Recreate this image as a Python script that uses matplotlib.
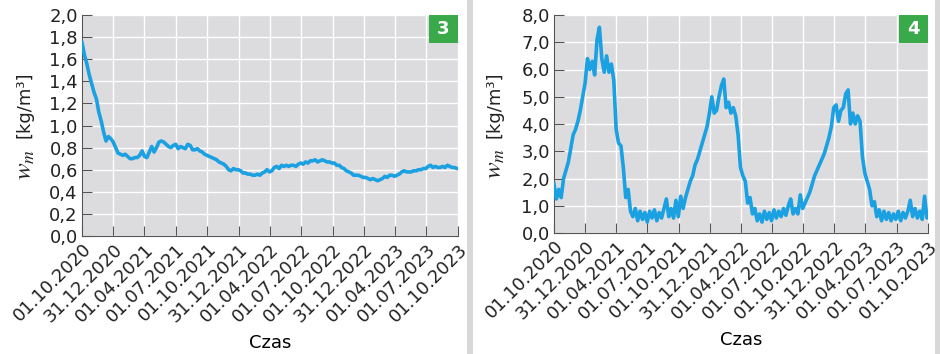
import numpy as np
import pandas as pd
import matplotlib
matplotlib.use('Agg')
import matplotlib.pyplot as plt
from matplotlib.patches import Rectangle

# weekly readings, 01.10.2020 .. 01.10.2023
wm_3 = [1.75, 1.64, 1.56, 1.46, 1.38, 1.30, 1.24, 1.12, 1.04, 0.94,
        0.86, 0.90, 0.88, 0.85, 0.80, 0.75, 0.74, 0.73, 0.74, 0.72,
        0.70, 0.70, 0.71, 0.71, 0.73, 0.77, 0.72, 0.71, 0.76, 0.81,
        0.76, 0.80, 0.85, 0.86, 0.85, 0.83, 0.81, 0.80, 0.82, 0.83,
        0.79, 0.81, 0.80, 0.79, 0.83, 0.82, 0.78, 0.78, 0.79, 0.77,
        0.76, 0.74, 0.73, 0.72, 0.71, 0.70, 0.69, 0.67, 0.66, 0.65,
        0.63, 0.60, 0.59, 0.61, 0.60, 0.60, 0.59, 0.57, 0.57, 0.56,
        0.56, 0.55, 0.55, 0.56, 0.55, 0.57, 0.58, 0.60, 0.58, 0.59,
        0.62, 0.63, 0.61, 0.64, 0.63, 0.64, 0.63, 0.64, 0.64, 0.63,
        0.65, 0.66, 0.65, 0.67, 0.66, 0.68, 0.68, 0.69, 0.67, 0.68,
        0.69, 0.68, 0.67, 0.67, 0.66, 0.66, 0.64, 0.64, 0.62, 0.61,
        0.59, 0.58, 0.57, 0.55, 0.55, 0.55, 0.54, 0.53, 0.53, 0.52,
        0.51, 0.52, 0.51, 0.50, 0.51, 0.52, 0.54, 0.53, 0.55, 0.55,
        0.54, 0.55, 0.56, 0.58, 0.59, 0.58, 0.58, 0.58, 0.59, 0.59,
        0.60, 0.60, 0.61, 0.61, 0.63, 0.64, 0.62, 0.63, 0.62, 0.62,
        0.63, 0.62, 0.64, 0.63, 0.62, 0.62, 0.61, 0.61]

wm_4 = [1.80, 1.25, 1.60, 1.30, 2.00, 2.30, 2.60, 3.10, 3.60, 3.80,
        4.10, 4.50, 5.00, 5.50, 6.40, 6.00, 6.30, 5.80, 7.10, 7.55,
        6.40, 5.90, 6.50, 5.90, 6.20, 5.60, 3.80, 3.30, 3.20, 2.40,
        1.30, 1.60, 0.80, 0.60, 0.90, 0.45, 0.80, 0.50, 0.75, 0.40,
        0.80, 0.55, 0.85, 0.45, 0.75, 0.55, 0.90, 1.25, 0.60, 0.90,
        0.55, 1.20, 0.60, 1.35, 0.90, 1.30, 1.60, 1.90, 2.10, 2.50,
        2.70, 3.00, 3.30, 3.60, 3.90, 4.40, 5.00, 4.40, 4.50, 5.00,
        5.40, 5.65, 4.60, 4.80, 4.40, 4.60, 4.30, 3.60, 2.40, 2.10,
        1.90, 1.10, 1.30, 0.70, 0.90, 0.45, 0.70, 0.40, 0.80, 0.50,
        0.75, 0.45, 0.85, 0.55, 0.80, 0.60, 0.90, 0.65, 1.00, 1.25,
        0.70, 0.90, 0.70, 1.40, 0.90, 1.10, 1.30, 1.50, 1.80, 2.10,
        2.30, 2.50, 2.70, 2.90, 3.20, 3.50, 3.90, 4.60, 4.70, 4.10,
        4.50, 4.60, 5.10, 5.25, 4.00, 4.40, 4.00, 4.30, 4.10, 2.80,
        2.20, 1.90, 1.60, 1.00, 1.15, 0.60, 0.85, 0.45, 0.80, 0.50,
        0.75, 0.45, 0.70, 0.50, 0.80, 0.45, 0.75, 0.55, 0.80, 1.20,
        0.60, 0.90, 0.55, 0.80, 0.50, 1.35, 0.55, 0.70]

tick_dates = ['2020-10-01', '2020-12-31', '2021-04-01', '2021-07-01', '2021-10-01',
              '2021-12-31', '2022-04-01', '2022-07-01', '2022-10-01', '2022-12-31',
              '2023-04-01', '2023-07-01', '2023-10-01']
tick_labels = ['01.10.2020', '31.12.2020', '01.04.2021', '01.07.2021', '01.10.2021',
               '31.12.2021', '01.04.2022', '01.07.2022', '01.10.2022', '31.12.2022',
               '01.04.2023', '01.07.2023', '01.10.2023']

dates = list(pd.date_range('2020-10-01', periods=157, freq='7D')) + [pd.Timestamp('2023-10-01')]

plt.rcParams['font.family'] = 'DejaVu Sans'
plt.rcParams['mathtext.fontset'] = 'stix'

line_col = '#1ba0e2'
bg = '#dcdcde'


def panel(ax, y, ymax, ystep, badge, lab_x, lab_y, sym_y):
    ax.set_facecolor(bg)
    ax.plot(dates, y, color=line_col, linewidth=2.6, zorder=3)
    ax.set_xlim(pd.Timestamp('2020-10-01'), pd.Timestamp('2023-10-01'))
    ax.set_ylim(0, ymax)
    yt = np.arange(0, ymax + ystep / 2, ystep)
    ax.set_yticks(yt)
    ax.set_yticklabels([('%.1f' % v).replace('.', ',') for v in yt], fontsize=13)
    ax.set_xticks([pd.Timestamp(d) for d in tick_dates])
    ax.set_xticklabels(tick_labels, rotation=45, ha='right', rotation_mode='anchor', fontsize=13)
    ax.grid(True, color='white', linewidth=1.0, zorder=0)
    ax.set_axisbelow(True)
    for s in ['top', 'right']:
        ax.spines[s].set_visible(False)
    for s in ['left', 'bottom']:
        ax.spines[s].set_color('#555555')
    ax.tick_params(direction='in', length=7, color='#555555', pad=3, labelcolor='#222222')
    ax.set_xlabel('Czas', fontsize=13, labelpad=6)
    # y label: big italic symbol + unit
    ax.text(lab_x, lab_y, '[kg/m³]', transform=ax.transAxes, rotation=90,
            ha='center', va='center', fontsize=13, color='#222222')
    ax.text(lab_x, sym_y, '$w_m$', transform=ax.transAxes, rotation=90,
            ha='center', va='center', fontsize=18, color='#222222')
    ax.add_patch(Rectangle((1 - 29 / 376, 1 - 28 / 220), 29 / 376, 28 / 220,
                           transform=ax.transAxes, facecolor='#39a949', edgecolor='none', zorder=5))
    ax.text(1 - 14.5 / 376, 1 - 14 / 220, badge, transform=ax.transAxes, color='white',
            fontsize=13, fontweight='bold', ha='center', va='center', zorder=6)


fig = plt.figure(figsize=(9.4, 3.54), dpi=100)
ax1 = fig.add_axes([82 / 940, 118 / 354, 376 / 940, 221 / 354])
ax2 = fig.add_axes([554 / 940, 121 / 354, 374 / 940, 218 / 354])
panel(ax1, wm_3, 2.0, 0.2, '3', -0.152, 0.595, 0.325)
panel(ax2, wm_4, 8.0, 1.0, '4', -0.158, 0.59, 0.32)

# separators
fig.patches.append(Rectangle((467 / 940, 0), 6 / 940, 1, transform=fig.transFigure,
                             facecolor='#d8d8d8', edgecolor='none'))
fig.patches.append(Rectangle((935 / 940, 0), 5 / 940, 1, transform=fig.transFigure,
                             facecolor='#d8d8d8', edgecolor='none'))

fig.savefig('out.png', dpi=100)
